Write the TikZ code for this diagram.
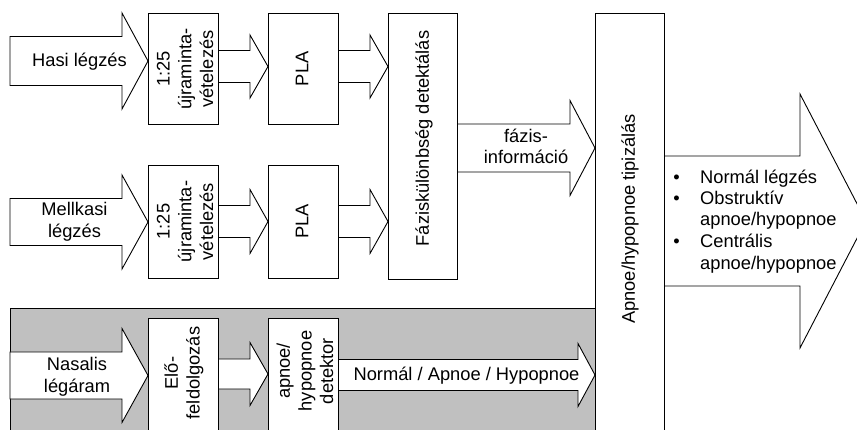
\documentclass[tikz,border=0pt]{standalone}
\usepackage{fontspec}
\setmainfont{Liberation Sans}
\definecolor{bandgray}{RGB}{192,192,192}
\newcommand\blockarrow[6]{%
  \draw[blk] (#1,#4-#5) -- (#2,#4-#5) -- (#2,#4-#6) -- (#3,#4) -- (#2,#4+#6) -- (#2,#4+#5) -- (#1,#4+#5) -- cycle;}
\begin{document}
\begin{tikzpicture}[x=1pt,y=-1pt,
  every node/.style={font=\fontsize{18.3}{21.7}\selectfont, inner sep=0pt},
  blk/.style={draw=black, fill=white, line width=0.9pt, line join=miter},
  box/.style={draw=black, fill=white, line width=0.9pt},
  lbl/.style={align=center},
  rlbl/.style={align=center, rotate=90},
  bul/.style={anchor=base}]
\useasboundingbox (0,0) rectangle (857,430);
\clip (0,0) rectangle (857,430);
% gray band
\fill[bandgray] (10,308) rectangle (595,440);
\draw[line width=0.9pt] (10,440) -- (10,308) -- (595,308);
% input arrows
\blockarrow{10}{122}{148}{61}{24.5}{48}
\blockarrow{10}{122}{148}{222}{23.5}{47}
\blockarrow{10}{122}{148}{375.5}{23.5}{47}
% small arrows
\blockarrow{218}{250}{268}{66.5}{16}{31.5}
\blockarrow{338}{370}{388}{66.5}{16}{31.5}
\blockarrow{218}{250}{268}{221.5}{16}{32}
\blockarrow{338}{370}{388}{221.5}{16}{32}
\blockarrow{218}{250}{268}{374}{15}{31.5}
\blockarrow{338}{578}{595}{375}{15.5}{31.5}
\blockarrow{457.5}{570}{595}{148}{24}{47.5}
\blockarrow{664}{800}{866}{221}{65}{127}
% boxes
\node[box, minimum width=70pt, minimum height=111.5pt] (b1) at (183,68.75) {};
\node[box, minimum width=70pt, minimum height=111.5pt] (p1) at (303,68.75) {};
\node[box, minimum width=70pt, minimum height=113pt] (b2) at (183,221.5) {};
\node[box, minimum width=70pt, minimum height=113pt] (p2) at (303,221.5) {};
\node[box, minimum width=69.5pt, minimum height=266pt] (f) at (422.75,146) {};
\node[box, minimum width=70pt, minimum height=122pt] (e) at (183,379) {};
\node[box, minimum width=70pt, minimum height=122pt] (d) at (303,379) {};
\node[box, minimum width=69pt, minimum height=427pt] (a) at (629.5,226.5) {};
% texts in arrows
\node[anchor=base] (hasi) at (79.5,66.7) {Hasi légzés};
\node[lbl] (mell) at (74.5,222) {Mellkasi\\légzés};
\node[lbl] (nas) at (77,377) {Nasalis\\légáram};
\node[lbl] (fazinfo) at (526,146.5) {fázis-\\információ};
\node[anchor=base] (nah) at (466.5,381) {Normál / Apnoe / Hypopnoe};
% texts in boxes
\node[rlbl] (b1t) at (185,69) {1:25\\újraminta-\\vételezés};
\node[rlbl] (b2t) at (185,221.5) {1:25\\újraminta-\\vételezés};
\node[rlbl] (p1t) at (302,68.75) {PLA};
\node[rlbl] (p2t) at (302,221.5) {PLA};
\node[rlbl] (ft) at (424,138.5) {Fáziskülönbség detektálás};
\node[rlbl] (at) at (630,219) {Apnoe/hypopnoe tipizálás};
\node[rlbl] (et) at (184,373) {Elő-\\feldolgozás};
\node[rlbl] (dt) at (305,371) {apnoe/\\hypopnoe\\detektor};
% output list
\node[bul] (bu1) at (676.5,183.5) {•};
\node[bul] (bu2) at (676.5,205) {•};
\node[bul] (bu3) at (676.5,248) {•};
\node[anchor=base west] (o1) at (700,183.5) {Normál légzés};
\node[anchor=base west] (o2) at (700,205) {Obstruktív};
\node[anchor=base west] (o3) at (700,226) {apnoe/hypopnoe};
\node[anchor=base west] (o4) at (700,248) {Centrális};
\node[anchor=base west] (o5) at (700,269.5) {apnoe/hypopnoe};
\end{tikzpicture}
\end{document}
